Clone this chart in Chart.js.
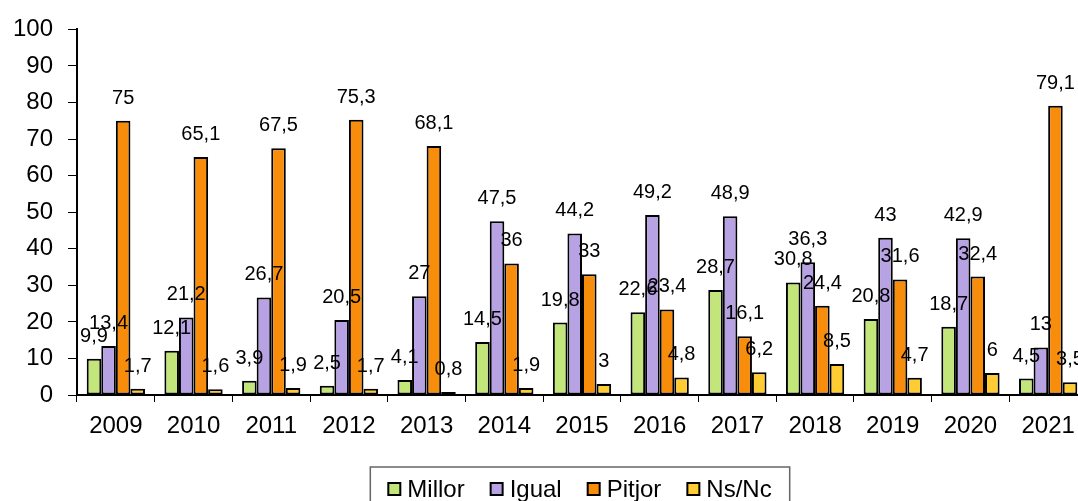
<!DOCTYPE html>
<html>
<head>
<meta charset="utf-8">
<script src="https://cdn.jsdelivr.net/npm/chart.js@4"></script>
<style>
    html, body { margin: 0; padding: 0; background: #fff; overflow: hidden; }
    #wrap { width: 1090px; height: 501px; }
</style>
</head>
<body>
<div id="wrap"><canvas id="chart" width="1090" height="501"></canvas></div>
<script>
const years = ['2009', '2010', '2011', '2012', '2013', '2014', '2015', '2016', '2017', '2018', '2019', '2020', '2021'];
const millor = [9.9, 12.1, 3.9, 2.5, 4.1, 14.5, 19.8, 22.6, 28.7, 30.8, 20.8, 18.7, 4.5];
const igual = [13.4, 21.2, 26.7, 20.5, 27, 47.5, 44.2, 49.2, 48.9, 36.3, 43, 42.9, 13];
const pitjor = [75, 65.1, 67.5, 75.3, 68.1, 36, 33, 23.4, 16.1, 24.4, 31.6, 32.4, 79.1];
const nsnc = [1.7, 1.6, 1.9, 1.7, 0.8, 1.9, 3, 4.8, 6.2, 8.5, 4.7, 6, 3.5];

const FONT = "'Liberation Sans', Arial, sans-serif";

function makeSet(label, values, color) {
    return {
        label: label,
        data: values,
        backgroundColor: color,
        borderColor: '#000000',
        borderWidth: 2,
        borderSkipped: false,
        categoryPercentage: 0.75,
        barPercentage: 1.0
    };
}

// value labels above each bar, decimal comma
const barLabels = {
    id: 'barLabels',
    afterDatasetsDraw(chart) {
        const ctx = chart.ctx;
        ctx.save();
        ctx.font = '20px ' + FONT;
        ctx.fillStyle = '#000';
        ctx.textAlign = 'center';
        ctx.textBaseline = 'alphabetic';
        chart.data.datasets.forEach((ds, i) => {
            chart.getDatasetMeta(i).data.forEach((bar, j) => {
                const txt = String(ds.data[j]).replace('.', ',');
                ctx.fillText(txt, bar.x, bar.y - 17);
            });
        });
        ctx.restore();
    }
};

// legend drawn by hand: boxed, centred under the plot, cut by the bottom edge
const boxedLegend = {
    id: 'boxedLegend',
    afterDraw(chart) {
        const ctx = chart.ctx;
        const sets = chart.data.datasets;
        const centerX = 580, textY = 489, mark = 12, gap = 7, spacing = 26;
        ctx.save();
        ctx.font = '24px ' + FONT;
        const widths = sets.map(ds => mark + gap + ctx.measureText(ds.label).width);
        const total = widths.reduce((a, b) => a + b, 0) + spacing * (sets.length - 1);
        let x = centerX - total / 2;

        ctx.strokeStyle = '#666';
        ctx.lineWidth = 1.5;
        ctx.strokeRect(x - 18, 467, total + 36, 60);

        ctx.textBaseline = 'middle';
        sets.forEach((ds, i) => {
            ctx.fillStyle = ds.backgroundColor;
            ctx.fillRect(x, textY - mark / 2, mark, mark);
            ctx.strokeStyle = '#000';
            ctx.lineWidth = 2;
            ctx.strokeRect(x, textY - mark / 2, mark, mark);
            ctx.fillStyle = '#000';
            ctx.fillText(ds.label, x + mark + gap, textY + 1);
            x += widths[i] + spacing;
        });
        ctx.restore();
    }
};

new Chart(document.getElementById('chart'), {
    type: 'bar',
    data: {
        labels: years,
        datasets: [
            makeSet('Millor', millor, '#c3e67b'),
            makeSet('Igual', igual, '#b7a2e3'),
            makeSet('Pitjor', pitjor, '#f78d0b'),
            makeSet('Ns/Nc', nsnc, '#ffcc33')
        ]
    },
    options: {
        responsive: false,
        animation: false,
        layout: { padding: { top: 27, right: 3, left: 0, bottom: 66 } },
        plugins: {
            tooltip: { enabled: false },
            legend: { display: false }
        },
        scales: {
            x: {
                afterFit(scale) { scale.height = 40; },
                grid: { display: true, drawOnChartArea: false, offset: true, tickLength: 7, color: '#000', lineWidth: 1 },
                border: { color: '#000', width: 2 },
                ticks: { color: '#000', font: { family: FONT, size: 24 }, padding: 10 }
            },
            y: {
                min: 0,
                max: 100,
                afterFit(scale) { scale.width = 77; },
                grid: { drawOnChartArea: false, tickLength: 9, color: '#000', lineWidth: 1 },
                border: { color: '#000', width: 2 },
                ticks: { stepSize: 10, color: '#000', font: { family: FONT, size: 24 }, padding: 15 }
            }
        }
    },
    plugins: [barLabels, boxedLegend]
});
</script>
</body>
</html>
